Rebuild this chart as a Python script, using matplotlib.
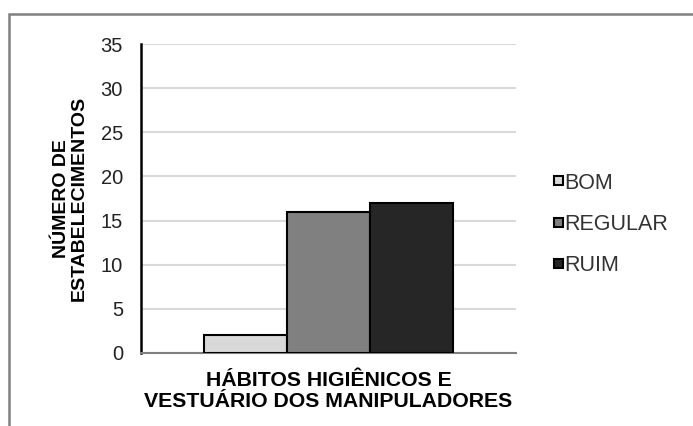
import matplotlib.pyplot as plt
from matplotlib.patches import Rectangle

plt.rcParams['font.family'] = ['Liberation Sans', 'DejaVu Sans']

# data
series = ['BOM', 'REGULAR', 'RUIM']
values = [2, 16, 17]
colors = ['#d9d9d9', '#808080', '#262626']
yticks = [0, 5, 10, 15, 20, 25, 30, 35]

fig = plt.figure(figsize=(6.93, 4.26), dpi=100)

# outer frame of the chart
fig.patches.append(Rectangle((9 / 693, -0.05), 1.0, 1 - 14 / 426 + 0.05,
                             transform=fig.transFigure, fill=False,
                             edgecolor='#7f7f7f', linewidth=1.8))

ax = fig.add_axes([141 / 693, 1 - 353 / 426, 375 / 693, 309 / 426])

w = 0.221
for i, (name, v, c) in enumerate(zip(series, values, colors)):
    ax.bar((i - 1) * w, v, width=w, color=c, edgecolor='black',
           linewidth=1.5, label=name, zorder=3)

ax.set_xlim(-0.5, 0.5)
ax.set_ylim(0, 35)
ax.set_yticks(yticks)
ax.tick_params(axis='y', length=0, labelsize=14.5, pad=13, labelcolor='#222222')
ax.set_xticks([])
ax.grid(axis='y', color='#d9d9d9', linewidth=1.5, zorder=0)

for s in ['top', 'right']:
    ax.spines[s].set_visible(False)
ax.spines['left'].set_linewidth(1.8)
ax.spines['left'].set_color('black')
ax.spines['bottom'].set_color('#7f7f7f')
ax.spines['bottom'].set_linewidth(1.5)

ax.set_xlabel('HÁBITOS HIGIÊNICOS E\nVESTUÁRIO DOS MANIPULADORES',
              fontsize=15.3, fontweight='bold', linespacing=1.12)
ax.xaxis.set_label_coords(0.5, -0.058)
ax.set_ylabel('NÚMERO DE\nESTABELECIMENTOS', fontsize=14, fontweight='bold',
              linespacing=1.05)
ax.yaxis.set_label_coords(-0.141, 0.5)

ax.legend(loc='center left', bbox_to_anchor=(1.072, 0.416), frameon=False,
          borderpad=0, fontsize=15.5, handlelength=0.42, handleheight=0.28,
          handletextpad=0.08, labelspacing=0.95, labelcolor='#333333')

fig.savefig('out.png', dpi=100)
